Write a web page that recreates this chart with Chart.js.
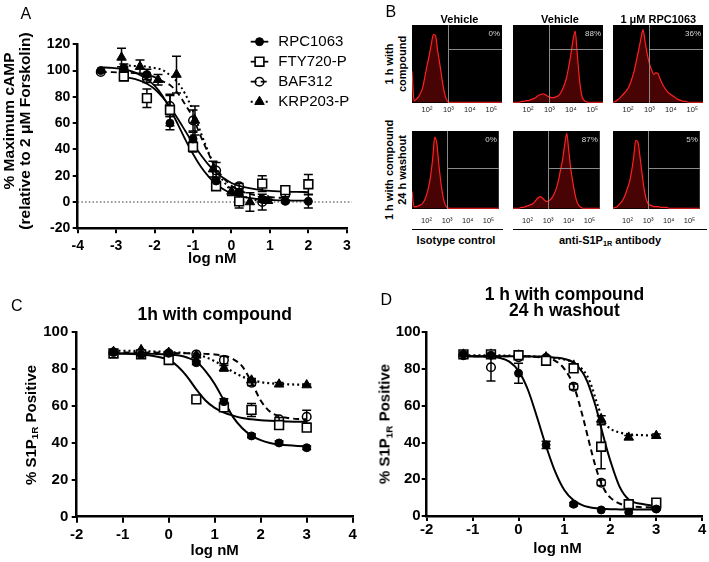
<!DOCTYPE html>
<html>
<head>
<meta charset="utf-8">
<title>S1P1R figure</title>
<script src="https://cdn.jsdelivr.net/npm/chart.js@4.4.1/dist/chart.umd.min.js"></script>
<style>
  html, body { margin: 0; padding: 0; background: #fff; }
  #fig { position: relative; width: 709px; height: 562px; overflow: hidden;
         font-family: Arial, "Liberation Sans", Helvetica, sans-serif; color: #000; }
  #fig canvas { position: absolute; }
  .txt { position: absolute; white-space: nowrap; line-height: 1; }
  .ctr { transform: translate(-50%, -50%); text-align: center; }
  .rot { transform: translate(-50%, -50%) rotate(-90deg); text-align: center; }
  .bold { font-weight: bold; }
  .letter { font-size: 16px; }
  sub { font-size: 0.66em; vertical-align: -0.3em; line-height: 0; }
  .rule { position: absolute; height: 0; border-top: 1.6px solid #000; }
</style>
</head>
<body>
<div id="fig">
  <canvas id="chartA" width="355" height="280" style="left:0;top:0"></canvas>
  <canvas id="chartC" width="362" height="282" style="left:0;top:280px"></canvas>
  <canvas id="chartD" width="355" height="282" style="left:355px;top:280px"></canvas>

  <div class="txt letter" style="left:20.5px;top:6.2px">A</div>
  <div class="txt letter" style="left:385.5px;top:3.9px">B</div>
  <div class="txt letter" style="left:10.9px;top:297.9px">C</div>
  <div class="txt letter" style="left:380.5px;top:291.9px">D</div>

  <!-- panel A y title -->
  <div class="txt rot bold" style="left:8.5px;top:121px;font-size:15.5px">% Maximum cAMP</div>
  <div class="txt rot bold" style="left:25px;top:131px;font-size:15.5px">(relative to 2 μM Forskolin)</div>

  <!-- panel B labels -->
  <div class="txt ctr bold" style="left:459.5px;top:19px;font-size:11px">Vehicle</div>
  <div class="txt ctr bold" style="left:560px;top:19px;font-size:11px">Vehicle</div>
  <div class="txt ctr bold" style="left:658.3px;top:19px;font-size:11px">1 μM RPC1063</div>
  <div class="txt rot bold" style="left:395px;top:64px;font-size:11px;line-height:12.5px">1 h with<br>compound</div>
  <div class="txt rot bold" style="left:395px;top:169.5px;font-size:11px;line-height:12.5px">1 h with compound<br>24 h washout</div>
  <div class="rule" style="left:411.7px;top:228.5px;width:91.6px"></div>
  <div class="rule" style="left:513.3px;top:228.5px;width:193.7px"></div>
  <div class="txt ctr bold" style="left:456px;top:239.5px;font-size:11px">Isotype control</div>
  <div class="txt ctr bold" style="left:610px;top:239.5px;font-size:11px">anti-S1P<sub>1R</sub> antibody</div>

  <!-- panels C and D axis titles -->
  <div class="txt rot bold" style="left:30px;top:424.5px;font-size:15px">% S1P<sub>1R</sub> Positive</div>
  <div class="txt rot bold" style="left:383.5px;top:424px;font-size:15px">% S1P<sub>1R</sub> Positive</div>
  <div class="txt ctr bold" style="left:557.5px;top:547px;font-size:15px">log nM</div>
</div>

<script>
// ---- data ----
const compounds = ['RPC1063', 'FTY720-P', 'BAF312', 'KRP203-P'];

// A: cAMP inhibition, log nM vs % of 2 uM forskolin
const aLogRPC = [-3.4, -2.8, -2.2, -1.6, -1.0, -0.4, 0.2, 0.8, 1.4, 2.0];
const aPctRPC = [100, 102, 97, 60, 48, 16, 7, 2, 0.5, 0.5];
const aErrRPC = [0, 3, 4, 5, 5, 3, 2, 2, 1, 5];
const aLogFTY = [-2.8, -2.2, -1.6, -1.0, -0.4, 0.2, 0.8, 1.4, 2.0];
const aPctFTY = [95.5, 79, 70, 42, 12, 0.5, 14, 9, 13.5];
const aErrFTY = [3, 7, 12, 4, 3, 5, 6, 2, 7.5];
const aLogBAF = [-3.4, -2.8, -2.2, -1.6, -1.0, -0.4, 0.2, 0.8, 1.4];
const aPctBAF = [99, 100, 94, 73, 62, 24, 12, 0, 6];
const aErrBAF = [0, 3, 3, 8, 8, 6, 2, 6, 2];
const aLogKRP = [-2.86, -2.38, -1.91, -1.43, -0.95, -0.48, 0, 0.48, 0.95];
const aPctKRP = [110, 103, 93, 97, 62, 25, 8, 0, 1];
const aErrKRP = [7, 5, 4, 14, 11, 6, 3, 7, 2];

const aFitLog = [-3.4, -3.1, -2.8, -2.5, -2.2, -2.0, -1.8, -1.6, -1.4, -1.2, -1.0, -0.8, -0.6, -0.4, -0.2, 0, 0.2, 0.5, 0.8, 1.1, 1.4, 1.7, 2.0];
const aFitRPC = [102.5, 102, 101, 98.5, 93.5, 88.5, 81, 71, 59.5, 47.5, 36.5, 27, 19.5, 13.5, 9.5, 6.5, 4.5, 3, 2, 1.5, 1.2, 1, 1];
const aFitFTY = [null, null, 95, 93.5, 90, 86, 80, 72.5, 63.5, 54, 44.5, 36, 28.5, 22.5, 18, 14.5, 12.3, 10.3, 9, 8.3, 7.9, 7.7, 7.6];
const aFitBAF = [99, 98.8, 98.5, 98, 96.5, 95, 92, 89, 83, 74, 64, 50, 37, 26, 18, 12.5, 9, 6, 4.5, 3.5, 3, null, null];
const aFitKRP = [null, null, 104, 103.5, 103, 102, 100.5, 96.5, 91, 82, 69, 53, 38, 25, 15.5, 9.5, 6, 2.5, 1, 0.5, null, null, null];

// C: 1 h with compound, % S1P1R positive
const cDose = [-1.2, -0.6, 0, 0.6, 1.2, 1.8, 2.4, 3.0];
const cRPC = [89, 88, 88.6, 83.5, 62.4, 43.8, 40, 37.4];
const cErrRPC = [0, 0, 0, 1, 1.5, 1, 1, 1];
const cFTY = [88.5, 88, 85, 63.6, 59.3, 57.9, 49.7, 48.3];
const cErrFTY = [0, 0, 2, 1.5, 2, 3.5, 1.5, 2];
const cBAF = [89, 89, 88.5, 88, 85, 72.7, 52.8, 54.2];
const cErrBAF = [0, 0, 0, 0, 2, 1.5, 1, 3.5];
const cKRP = [89.5, 90.5, 89, 87.5, 80.5, 74, 71.8, 71.4];
const cErrKRP = [0, 0, 0, 0, 1.5, 1, 1, 0.5];

const cFitLog = [-1.2, -0.9, -0.6, -0.3, 0, 0.2, 0.4, 0.6, 0.8, 1.0, 1.2, 1.4, 1.6, 1.8, 2.0, 2.2, 2.4, 2.6, 2.8, 3.0];
const cFitRPC = [88.5, 88.5, 88.4, 88.3, 88, 87.5, 86.3, 84, 79, 72, 63, 54, 48, 44, 41.5, 40, 39.2, 38.7, 38.4, 38.2];
const cFitFTY = [88.5, 88.4, 88, 87, 85, 81.5, 76, 69, 63, 59, 56.5, 54.8, 53.5, 52.8, 52.3, 52, 51.8, 51.6, 51.5, 51.5];
const cFitBAF = [89, 89, 89, 89, 88.8, 88.7, 88.6, 88.5, 88.3, 88, 87.2, 85.5, 81.5, 73, 63, 57, 54.5, 53.5, 53, 52.8];
const cFitKRP = [90, 90, 89.8, 89.6, 89.3, 89, 88.7, 88, 86.5, 84.3, 81.5, 78.5, 76, 74.2, 73, 72.4, 72, 71.8, 71.6, 71.5];

// D: 1 h with compound, 24 h washout
const dDose = [-1.2, -0.6, 0, 0.6, 1.2, 1.8, 2.4, 3.0];
const dRPC = [88, 87.5, 77.7, 38.7, 6.4, 3.3, 2, 3.8];
const dErrRPC = [0, 0, 5.5, 2, 1, 0, 0, 0];
const dFTY = [88, 88, 87.5, 84.5, 80.4, 37.7, 6.4, 7.3];
const dErrFTY = [0, 0, 1, 1.5, 1, 12, 0, 0];
const dBAF = [87.5, 81, 86.5, 86, 70.4, 18.1, 5, 4.2];
const dErrBAF = [0, 7.5, 0, 0, 1.5, 1.5, 0, 0];
const dKRP = [88, 88, 87.5, 86.5, 82, 52.6, 42.8, 43.7];
const dErrKRP = [0, 0, 0, 0, 0, 2, 1, 1];

const dFitLog = [-1.2, -0.8, -0.4, -0.2, 0, 0.2, 0.4, 0.6, 0.8, 1.0, 1.2, 1.4, 1.5, 1.6, 1.7, 1.8, 1.9, 2.0, 2.2, 2.4, 2.7, 3.0];
const dFitRPC = [87, 86.8, 86, 84, 79, 69, 54, 38, 24, 14, 8.5, 5.8, 5, 4.5, 4.2, 4, 3.8, 3.7, 3.6, 3.5, 3.5, 3.5];
const dFitFTY = [87, 87, 87, 87, 87, 86.9, 86.8, 86.6, 86.2, 85.5, 83.5, 78, 73, 66, 58, 48, 38.5, 30, 16, 9, 6.5, 5.5];
const dFitBAF = [87, 87, 87, 87, 86.9, 86.8, 86.5, 86, 84.5, 80, 71, 54, 44, 34, 25, 18, 13, 10, 6.8, 5.4, 4.8, 4.5];
const dFitKRP = [87.5, 87.5, 87.4, 87.3, 87.2, 87, 86.8, 86.5, 86, 85.2, 83.5, 79.5, 76, 70, 62, 55, 50, 47.5, 45.5, 44.5, 44, 43.8];

// B: flow cytometry histograms (log10 fluorescence vs % of max count)
const histLog = [1.3, 1.4, 1.5, 1.6, 1.7, 1.8, 1.9, 2.0, 2.1, 2.2, 2.3, 2.4, 2.5, 2.6, 2.7, 2.8, 2.9, 3.0, 3.1, 3.2, 3.3, 3.4, 3.5, 3.6, 3.7, 3.8, 3.9, 4.0, 4.1, 4.2, 4.3, 4.4, 4.5, 4.6, 4.7, 4.8, 4.9, 5.0, 5.1, 5.2, 5.3, 5.4, 5.5];
const histTicks = [2, 3, 4, 5];
const histIso1h = [40, 2, 4, 7, 12, 19, 33, 47, 60, 75, 88, 86, 66, 49, 30, 14, 4, 0, 0, 0, 0, 0, 0, 0, 0, 0, 0, 0, 0, 0, 0, 0, 0, 0, 0, 0, 0, 0, 0, 0, 0, 0, 0];
const histVeh1h = [0, 0, 0, 0, 1, 1, 2, 2, 3, 4, 5, 7, 9, 10, 11, 10, 8, 7, 6, 6, 7, 8, 11, 16, 23, 32, 46, 62, 80, 92, 62, 30, 10, 3, 1, 0, 0, 0, 0, 0, 0, 0, 0];
const histRpc1h = [0, 1, 3, 5, 8, 11, 14, 18, 24, 32, 42, 55, 68, 82, 94, 78, 62, 50, 42, 36, 38, 37, 30, 24, 19, 15, 12, 10, 8, 6, 4, 3, 2, 1, 1, 0, 0, 0, 0, 0, 0, 0, 0];
const histIso24h = [22, 2, 2, 3, 4, 6, 10, 17, 27, 42, 64, 92, 84, 56, 33, 15, 5, 1, 0, 0, 0, 0, 0, 0, 0, 0, 0, 0, 0, 0, 0, 0, 0, 0, 0, 0, 0, 0, 0, 0, 0, 0, 0];
const histVeh24h = [0, 0, 0, 0, 1, 1, 2, 3, 4, 5, 7, 10, 13, 15, 14, 11, 9, 9, 11, 14, 19, 26, 36, 50, 63, 82, 97, 74, 50, 33, 18, 8, 3, 1, 0, 0, 0, 0, 0, 0, 0, 0, 0];
const histRpc24h = [0, 1, 2, 5, 8, 12, 18, 26, 34, 48, 66, 88, 86, 68, 46, 26, 12, 6, 4, 3, 2, 2, 2, 1, 1, 1, 1, 0, 0, 0, 0, 0, 0, 0, 0, 0, 0, 0, 0, 0, 0, 0, 0];
const gatePct1h = ['0%', '88%', '36%'];
const gatePct24h = ['0%', '87%', '5%'];

// ---- styles ----
const FONT = 'Arial, "Liberation Sans", Helvetica, sans-serif';
Chart.defaults.font.family = FONT;
Chart.defaults.color = '#000';
Chart.defaults.animation = false;
Chart.defaults.responsive = false;
Chart.defaults.plugins.legend.display = false;
Chart.defaults.plugins.tooltip.enabled = false;

const styles = [
  { shape: 'circle', r: 4, fill: '#000', bw: 1, dash: [], lw: 1.8 },
  { shape: 'rect', r: 6.2, fill: '#fff', bw: 1.6, dash: [], lw: 1.8 },
  { shape: 'circle', r: 4.3, fill: 'rgba(0,0,0,0)', bw: 1.5, dash: [6, 4], lw: 1.8 },
  { shape: 'triangle', r: 5.5, fill: '#000', bw: 1, dash: [2, 3], lw: 2 }
];

function pts(xs, ys, errs, k) {
  const s = styles[k];
  return {
    data: xs.map((x, i) => ({ x: x, y: ys[i] })),
    errors: errs,
    showLine: false,
    pointStyle: s.shape, pointRadius: s.r,
    pointBackgroundColor: s.fill, pointBorderColor: '#000', pointBorderWidth: s.bw
  };
}

function curve(xs, ys, k, lw) {
  const s = styles[k];
  return {
    data: xs.map((x, i) => ({ x: x, y: ys[i] })).filter(p => p.y !== null),
    showLine: true, pointRadius: 0, fill: false,
    borderColor: '#000', borderWidth: lw || s.lw, borderDash: s.dash,
    cubicInterpolationMode: 'monotone'
  };
}

function axis(o) {
  return {
    type: 'linear', min: o.min, max: o.max,
    afterFit: o.fit,
    ticks: { stepSize: o.step, padding: o.pad, maxRotation: 0, color: '#000',
             font: { size: o.size, weight: 'bold' } },
    grid: { drawOnChartArea: false, drawTicks: true, tickLength: o.tick, tickWidth: 2,
            tickColor: '#000', color: '#000', lineWidth: 2 },
    border: { display: true, color: '#000', width: 2.5 },
    title: o.title
      ? { display: true, text: o.title, color: '#000', font: { size: 15, weight: 'bold' },
          padding: { top: 0, bottom: o.titlePad } }
      : { display: false }
  };
}

// error bars drawn from the dataset's own values through the scales
const errorBars = {
  id: 'errorBars',
  beforeDatasetsDraw(chart) {
    const { ctx, scales: { x, y } } = chart;
    ctx.save();
    ctx.strokeStyle = '#000';
    ctx.lineWidth = 1.5;
    chart.data.datasets.forEach(ds => {
      if (!ds.errors) return;
      ds.data.forEach((p, i) => {
        const e = ds.errors[i];
        if (!e) return;
        const px = x.getPixelForValue(p.x);
        const top = y.getPixelForValue(p.y + e);
        const bot = y.getPixelForValue(p.y - e);
        ctx.beginPath();
        ctx.moveTo(px, top); ctx.lineTo(px, bot);
        ctx.moveTo(px - 4.5, top); ctx.lineTo(px + 4.5, top);
        ctx.moveTo(px - 4.5, bot); ctx.lineTo(px + 4.5, bot);
        ctx.stroke();
      });
    });
    ctx.restore();
  }
};

function drawMarker(ctx, s, x, y) {
  ctx.fillStyle = s.fill;
  ctx.strokeStyle = '#000';
  ctx.lineWidth = s.bw;
  if (Chart.helpers && Chart.helpers.drawPoint) {
    Chart.helpers.drawPoint(ctx, { pointStyle: s.shape, radius: s.r, borderWidth: s.bw, rotation: 0 }, x, y);
  } else {
    ctx.beginPath(); ctx.arc(x, y, s.r, 0, Math.PI * 2); ctx.fill(); ctx.stroke();
  }
}

// legend with a line sample and marker, like the prism style
const lineLegend = {
  id: 'lineLegend',
  afterDraw(chart, args, o) {
    const ctx = chart.ctx;
    ctx.save();
    o.names.forEach((name, i) => {
      const s = styles[i];
      const y = o.y + i * o.gap;
      ctx.strokeStyle = '#000';
      ctx.lineWidth = s.lw;
      ctx.setLineDash(s.dash);
      ctx.beginPath();
      ctx.moveTo(o.x, y);
      ctx.lineTo(o.x + o.len, y);
      ctx.stroke();
      ctx.setLineDash([]);
      drawMarker(ctx, s, o.x + o.len / 2, y);
      ctx.fillStyle = '#000';
      ctx.font = '15px ' + FONT;
      ctx.textAlign = 'left';
      ctx.textBaseline = 'middle';
      ctx.fillText(name, o.textX, y);
    });
    ctx.restore();
  }
};

const zeroLine = {
  id: 'zeroLine',
  beforeDatasetsDraw(chart) {
    const { ctx, chartArea: a, scales: { y } } = chart;
    const py = y.getPixelForValue(0);
    ctx.save();
    ctx.strokeStyle = '#333';
    ctx.lineWidth = 1.2;
    ctx.setLineDash([1.5, 2.2]);
    ctx.beginPath();
    ctx.moveTo(a.left, py);
    ctx.lineTo(a.right + 5, py);
    ctx.stroke();
    ctx.restore();
  }
};

// ---- panel A ----
new Chart(document.getElementById('chartA'), {
  type: 'scatter',
  data: {
    datasets: [
      pts(aLogRPC, aPctRPC, aErrRPC, 0),
      pts(aLogFTY, aPctFTY, aErrFTY, 1),
      pts(aLogBAF, aPctBAF, aErrBAF, 2),
      pts(aLogKRP, aPctKRP, aErrKRP, 3),
      curve(aFitLog, aFitRPC, 0),
      curve(aFitLog, aFitFTY, 1),
      curve(aFitLog, aFitBAF, 2),
      curve(aFitLog, aFitKRP, 3)
    ]
  },
  options: {
    layout: { padding: { top: 44.3, right: 5, bottom: 0, left: 0 } },
    scales: {
      x: axis({ min: -4, max: 3, step: 1, size: 14, pad: 4.3, tick: 5, title: 'log nM', titlePad: 12,
                fit: s => { s.height = 51.7; } }),
      y: axis({ min: -20, max: 120, step: 20, size: 14, pad: 2.5, tick: 5,
                fit: s => { s.width = 77.7; } })
    },
    plugins: {
      lineLegend: { names: compounds, x: 250.7, y: 41.7, gap: 20, len: 17.6, textX: 278.3 }
    }
  },
  plugins: [zeroLine, errorBars, lineLegend]
});

// ---- panel C ----
new Chart(document.getElementById('chartC'), {
  type: 'scatter',
  data: {
    datasets: [
      pts(cDose, cRPC, cErrRPC, 0),
      pts(cDose, cFTY, cErrFTY, 1),
      pts(cDose, cBAF, cErrBAF, 2),
      pts(cDose, cKRP, cErrKRP, 3),
      curve(cFitLog, cFitRPC, 0, 2),
      curve(cFitLog, cFitFTY, 1, 2),
      curve(cFitLog, cFitBAF, 2, 2),
      curve(cFitLog, cFitKRP, 3, 2.2)
    ]
  },
  options: {
    layout: { padding: { top: 0, right: 9.3, bottom: 0, left: 0 } },
    scales: {
      x: axis({ min: -2, max: 4, step: 1, size: 15, pad: 3.3, tick: 6, title: 'log nM', titlePad: 2.5,
                fit: s => { s.height = 45.3; } }),
      y: axis({ min: 0, max: 100, step: 20, size: 15, pad: 3.4, tick: 5,
                fit: s => { s.width = 76.7; } })
    },
    plugins: {
      title: { display: true, text: '1h with compound', fullSize: false, color: '#000',
               font: { size: 17.5, weight: 'bold', lineHeight: 1.2 },
               padding: { top: 24.5, bottom: 6.8 } }
    }
  },
  plugins: [errorBars]
});

// ---- panel D ----
new Chart(document.getElementById('chartD'), {
  type: 'scatter',
  data: {
    datasets: [
      pts(dDose, dRPC, dErrRPC, 0),
      pts(dDose, dFTY, dErrFTY, 1),
      pts(dDose, dBAF, dErrBAF, 2),
      pts(dDose, dKRP, dErrKRP, 3),
      curve(dFitLog, dFitRPC, 0, 2),
      curve(dFitLog, dFitFTY, 1, 2),
      curve(dFitLog, dFitBAF, 2, 2),
      curve(dFitLog, dFitKRP, 3, 2.2)
    ]
  },
  options: {
    layout: { padding: { top: 0, right: 6.7, bottom: 0, left: 0 } },
    scales: {
      x: axis({ min: -2, max: 4, step: 1, size: 15, pad: 0, tick: 5,
                fit: s => { s.height = 46; } }),
      y: axis({ min: 0, max: 100, step: 20, size: 15, pad: 1, tick: 5,
                fit: s => { s.width = 71.7; } })
    },
    plugins: {
      title: { display: true, text: ['1 h with compound', '24 h washout'], fullSize: false, color: '#000',
               font: { size: 17.5, weight: 'bold', lineHeight: 0.95 },
               padding: { top: 6.7, bottom: 12.35 } }
    }
  },
  plugins: [errorBars]
});

// ---- panel B: six histograms ----
const sup = { 2: '\u00B2', 3: '\u00B3', 4: '\u2074', 5: '\u2075' };
const facs = {
  id: 'facs',
  beforeDraw(chart) {
    const { ctx, chartArea: a } = chart;
    ctx.save();
    ctx.fillStyle = '#000';
    ctx.fillRect(a.left, a.top, a.width, a.height);
    ctx.restore();
  },
  afterDatasetsDraw(chart, args, o) {
    const { ctx, chartArea: a, scales: { x, y } } = chart;
    const gx = Math.round(x.getPixelForValue(o.gateAt)) + 0.5;
    const gy = Math.round(y.getPixelForValue(o.level)) + 0.5;
    ctx.save();
    ctx.strokeStyle = '#8a8a8a';
    ctx.lineWidth = 1;
    ctx.beginPath();
    ctx.moveTo(gx, a.top); ctx.lineTo(gx, a.bottom);
    ctx.moveTo(gx, gy); ctx.lineTo(a.right, gy);
    ctx.stroke();
    ctx.fillStyle = '#d8d8d8';
    ctx.font = '8px ' + FONT;
    ctx.textAlign = 'right';
    ctx.textBaseline = 'middle';
    ctx.fillText(o.pct, a.right - 2, a.top + 8.5);
    ctx.restore();
  }
};

const boxLeft = [412.3, 513.3, 613.3];
const boxTop = [24.5, 130.5];
const boxW = 90, boxH = 78;
const labelGap = [2.3, 7.8];
const gateLevel = [69, 52];
const histRows = [[histIso1h, histVeh1h, histRpc1h], [histIso24h, histVeh24h, histRpc24h]];
const pctRows = [gatePct1h, gatePct24h];
const fig = document.getElementById('fig');

histRows.forEach((row, r) => row.forEach((counts, c) => {
  const cv = document.createElement('canvas');
  cv.width = boxW;
  cv.height = boxH + 20;
  cv.style.left = boxLeft[c] + 'px';
  cv.style.top = boxTop[r] + 'px';
  fig.insertBefore(cv, fig.firstChild);
  new Chart(cv, {
    type: 'line',
    data: {
      datasets: [{
        data: histLog.map((v, i) => ({ x: v, y: counts[i] })),
        fill: 'origin', backgroundColor: '#480404',
        borderColor: '#ff2020', borderWidth: 1.2,
        pointRadius: 0, cubicInterpolationMode: 'monotone'
      }]
    },
    options: {
      layout: { padding: 0 },
      scales: {
        x: {
          type: 'linear', min: 1.3, max: 5.5,
          afterBuildTicks: s => { s.ticks = histTicks.map(v => ({ value: v })); },
          afterFit: s => { s.height = 20; },
          ticks: { padding: labelGap[r], maxRotation: 0, color: '#222', font: { size: 7.5 },
                   callback: v => '10' + sup[v] },
          grid: { display: false, drawTicks: false },
          border: { display: false }
        },
        y: { display: false, min: -1, max: 100 }
      },
      plugins: { facs: { gateAt: 3, level: gateLevel[r], pct: pctRows[r][c] } }
    },
    plugins: [facs]
  });
}));
</script>
</body>
</html>
